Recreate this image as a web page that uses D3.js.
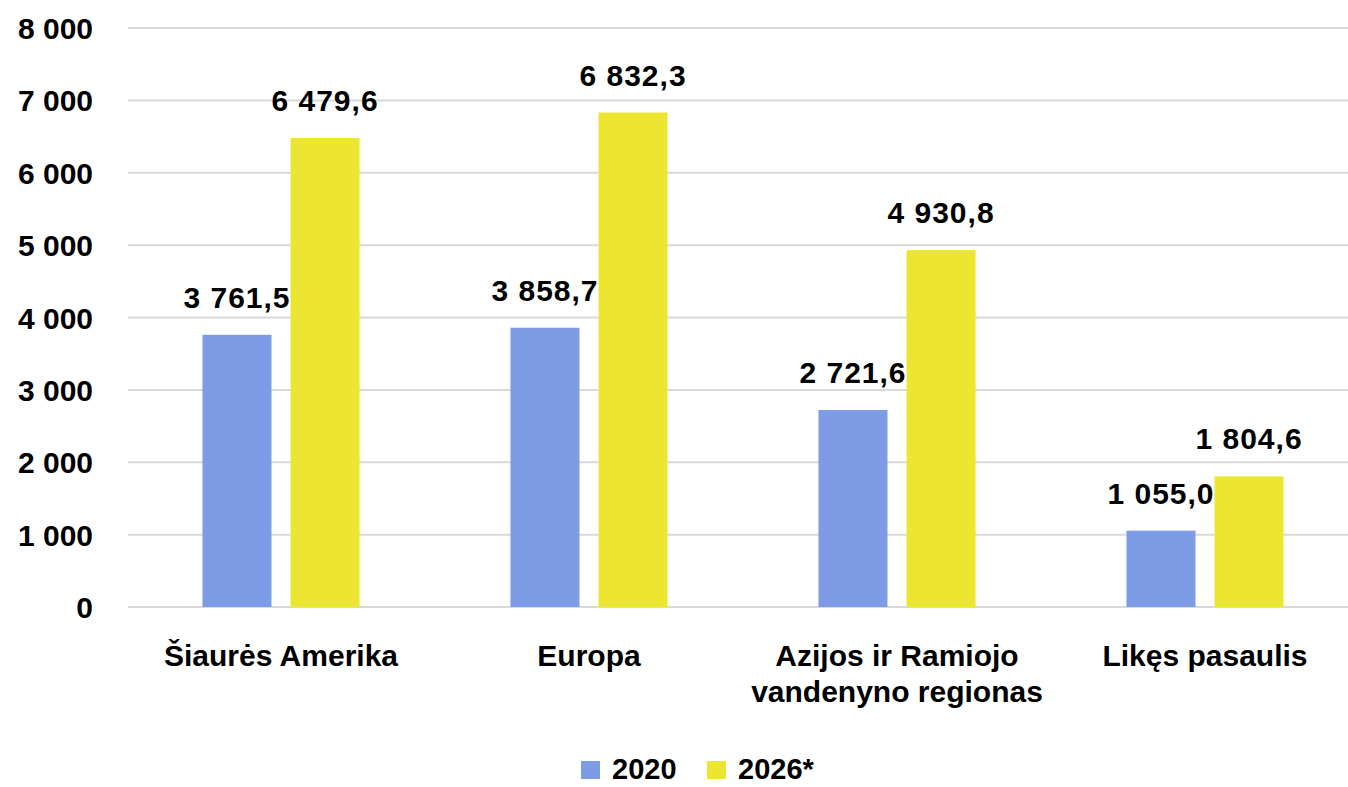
<!DOCTYPE html>
<html>
<head>
<meta charset="utf-8">
<script src="https://cdn.jsdelivr.net/npm/d3@7"></script>
<style>
  body { margin: 0; background: #fff; }
  text { font-family: "Liberation Sans", Arial, sans-serif; font-weight: bold; fill: #000; }
</style>
</head>
<body>
<div id="chart"></div>
<script>
// data
let categories = [["Šiaurės Amerika"], ["Europa"], ["Azijos ir Ramiojo", "vandenyno regionas"], ["Likęs pasaulis"]];
let seriesNames = ["2020", "2026*"];
let values2020 = [3761.5, 3858.7, 2721.6, 1055.0];
let values2026 = [6479.6, 6832.3, 4930.8, 1804.6];
let yTicks = [0, 1000, 2000, 3000, 4000, 5000, 6000, 7000, 8000];
let colors = ["#7e9ce6", "#ede630"];

let width = 1348, height = 787;

let svg = d3.select("#chart").append("svg")
    .attr("width", width)
    .attr("height", height);

let catKeys = categories.map(c => c.join(" "));

// scales
let x0 = d3.scaleBand()
    .domain(catKeys)
    .range([127, 1359])
    .paddingInner(0.49)
    .paddingOuter(0.245);

let x1 = d3.scaleBand()
    .domain(seriesNames)
    .range([0, x0.bandwidth()])
    .paddingInner(0.216);

let y = d3.scaleLinear()
    .domain([0, 8000])
    .range([607, 28]);

let fmt = v => d3.format(",.1f")(v).replace(/,/g, " ").replace(".", ",");
let fmtTick = v => d3.format(",")(v).replace(/,/g, " ");

// grid
svg.append("g")
    .selectAll("line")
    .data(yTicks)
    .enter().append("line")
    .attr("x1", 128)
    .attr("x2", width)
    .attr("y1", d => y(d))
    .attr("y2", d => y(d))
    .attr("stroke", "#d9d9d9")
    .attr("stroke-width", 2);

// y axis labels
let yAxis = svg.append("g")
    .attr("transform", "translate(93,0)")
    .call(d3.axisLeft(y).tickValues(yTicks).tickFormat(fmtTick).tickSize(0).tickPadding(0));
yAxis.select(".domain").remove();
yAxis.selectAll("text")
    .attr("font-size", 30)
    .attr("dy", "0.35em")
    .style("font-family", "'Liberation Sans', Arial, sans-serif");

// bars
let rows = catKeys.map((k, i) => ({ key: k, vals: [values2020[i], values2026[i]] }));

let groups = svg.append("g")
    .selectAll("g")
    .data(rows)
    .enter().append("g")
    .attr("transform", d => "translate(" + x0(d.key) + ",0)");

groups.selectAll("rect")
    .data(d => d.vals.map((v, j) => ({ s: seriesNames[j], v: v, j: j })))
    .enter().append("rect")
    .attr("x", d => x1(d.s))
    .attr("y", d => y(d.v))
    .attr("width", x1.bandwidth())
    .attr("height", d => y(0) - y(d.v))
    .attr("fill", d => colors[d.j]);

groups.selectAll("text.val")
    .data(d => d.vals.map((v, j) => ({ s: seriesNames[j], v: v, j: j })))
    .enter().append("text")
    .attr("class", "val")
    .attr("x", d => x1(d.s) + x1.bandwidth() / 2)
    .attr("y", d => y(d.v) - 27)
    .attr("text-anchor", "middle")
    .attr("font-size", 30)
    .attr("letter-spacing", 1)
    .text(d => fmt(d.v));

// category labels
let catLabels = svg.append("g")
    .selectAll("text")
    .data(categories)
    .enter().append("text")
    .attr("x", (d, i) => x0(catKeys[i]) + x0.bandwidth() / 2)
    .attr("y", 666)
    .attr("text-anchor", "middle")
    .attr("font-size", 30);

catLabels.selectAll("tspan")
    .data(d => d)
    .enter().append("tspan")
    .attr("x", function() { return d3.select(this.parentNode).attr("x"); })
    .attr("dy", (d, i) => i === 0 ? 0 : 36)
    .text(d => d);

// legend
let legendX = [581, 707];
let legend = svg.append("g")
    .selectAll("g")
    .data(seriesNames)
    .enter().append("g")
    .attr("transform", (d, i) => "translate(" + legendX[i] + ",761)");

legend.append("rect")
    .attr("width", 19)
    .attr("height", 18)
    .attr("fill", (d, i) => colors[i]);

legend.append("text")
    .attr("x", 31)
    .attr("y", 18)
    .attr("font-size", 29)
    .text(d => d);
</script>
</body>
</html>
